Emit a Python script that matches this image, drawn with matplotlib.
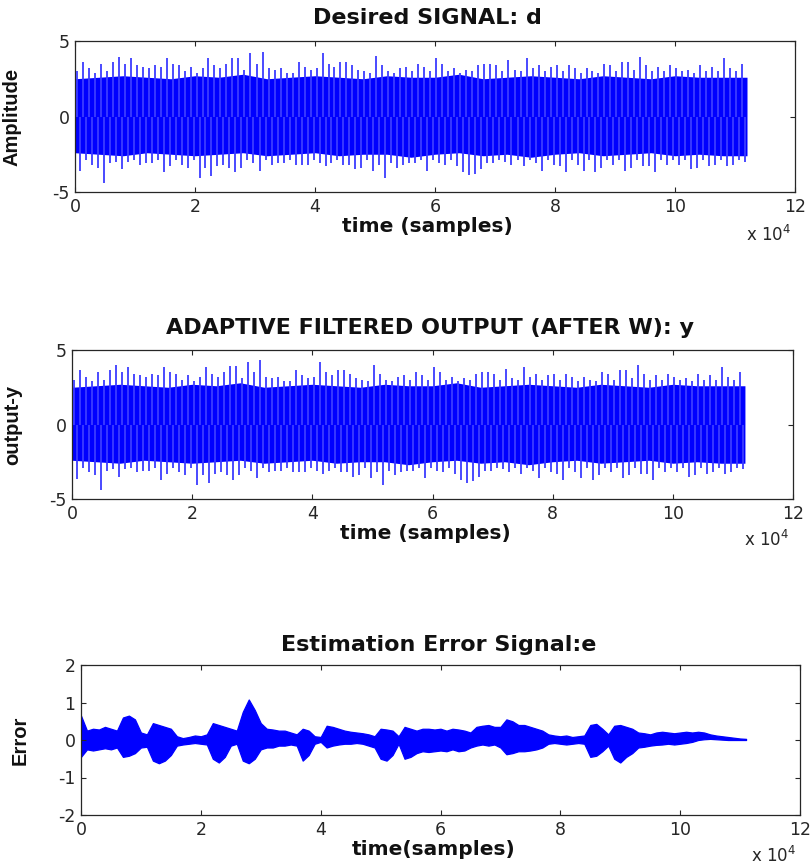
import matplotlib
matplotlib.use("Agg")
import matplotlib.pyplot as plt
import numpy as np
from matplotlib.ticker import FuncFormatter, FixedLocator

plt.rcParams["axes.unicode_minus"] = False

# envelope readings, one value per 1000 samples (0 .. 111000)
BIN = 1000
D_SPIKE_HI = [
    3.0, 3.63, 3.2, 2.9, 3.5, 3.0, 3.63, 3.96, 3.5, 3.85,
    3.4, 3.3, 3.2, 3.4, 3.3, 3.85, 3.5, 3.4, 3.0, 3.3,
    2.9, 3.2, 3.85, 3.4, 3.2, 3.5, 3.9, 3.9, 3.1, 4.2,
    3.5, 4.3, 3.2, 3.1, 3.2, 2.9, 2.9, 3.63, 3.3, 3.1,
    3.2, 4.2, 3.5, 3.3, 3.63, 3.63, 3.4, 3.1, 3.0, 2.9,
    4.0, 3.4, 3.0, 2.9, 3.2, 3.3, 3.0, 3.5, 3.3, 3.0,
    3.85, 3.5, 3.0, 3.2, 2.9, 3.1, 3.0, 3.4, 3.5, 3.5,
    3.4, 3.0, 3.75, 3.1, 3.0, 3.85, 3.2, 3.4, 3.0, 3.3,
    3.4, 3.0, 3.4, 3.2, 2.9, 3.2, 3.0, 2.9, 3.5, 3.4,
    3.0, 3.63, 3.63, 3.1, 3.96, 3.4, 3.0, 3.3, 3.0, 3.4,
    3.2, 3.0, 3.1, 2.9, 3.4, 3.0, 3.3, 3.0, 3.85, 3.2,
    3.0, 3.5,
]
D_SPIKE_LO = [
    -3.63, -2.9, -3.2, -3.4, -4.4, -3.1, -3.0, -3.5, -3.0, -2.9,
    -3.2, -3.1, -3.1, -2.9, -3.7, -3.3, -2.9, -3.2, -3.4, -2.9,
    -4.05, -3.4, -3.95, -3.3, -3.2, -3.4, -3.7, -3.4, -2.9, -3.1,
    -3.6, -2.9, -3.2, -3.1, -3.1, -2.9, -3.2, -3.2, -3.2, -2.9,
    -3.1, -3.3, -3.1, -2.9, -3.2, -3.2, -3.5, -3.4, -2.9, -3.6,
    -3.2, -4.05, -3.1, -3.4, -3.2, -3.1, -3.1, -2.9, -3.6, -2.9,
    -3.1, -3.2, -2.9, -3.3, -3.7, -3.9, -3.8, -3.5, -3.1, -3.1,
    -2.9, -3.0, -3.2, -2.9, -3.3, -2.9, -3.1, -3.6, -2.9, -3.2,
    -3.3, -3.7, -2.9, -3.2, -3.6, -2.9, -3.7, -3.4, -2.9, -3.2,
    -2.9, -3.6, -3.4, -2.9, -3.3, -3.3, -3.7, -2.9, -3.2, -2.9,
    -3.2, -2.9, -3.5, -3.4, -2.9, -3.3, -3.2, -2.9, -3.3, -3.2,
    -2.9, -3.0,
]

# solid core of the noise band, one value per 4000 samples
CORE_BIN = 4000
D_CORE_HI = [2.5, 2.6, 2.7, 2.6, 2.5, 2.7, 2.6, 2.8, 2.5, 2.6, 2.7, 2.6, 2.5, 2.7,
             2.6, 2.6, 2.8, 2.5, 2.6, 2.7, 2.6, 2.5, 2.7, 2.6, 2.5, 2.7, 2.6, 2.6]
D_CORE_LO = [-2.4, -2.5, -2.6, -2.4, -2.5, -2.6, -2.5, -2.4, -2.6, -2.5, -2.4, -2.6, -2.5, -2.5,
             -2.7, -2.5, -2.4, -2.6, -2.5, -2.7, -2.5, -2.4, -2.6, -2.5, -2.4, -2.6, -2.5, -2.6]

# filter output y follows d closely, so the readings are the same
Y_SPIKE_HI = list(D_SPIKE_HI)
Y_SPIKE_LO = list(D_SPIKE_LO)
Y_CORE_HI = list(D_CORE_HI)
Y_CORE_LO = list(D_CORE_LO)

E_HI = [
    0.65,
    0.25, 0.3, 0.28, 0.35, 0.3, 0.25,
    0.6, 0.65, 0.55,
    0.2, 0.15,
    0.45, 0.4, 0.35, 0.3,
    0.1, 0.05, 0.08, 0.12, 0.1, 0.15,
    0.45, 0.4, 0.35,
    0.3, 0.25,
    0.75, 1.08, 0.8,
    0.45, 0.3, 0.28, 0.25, 0.25, 0.2, 0.15,
    0.3, 0.25,
    0.1, 0.08,
    0.38, 0.35, 0.3, 0.25, 0.22, 0.2, 0.18, 0.15, 0.1,
    0.3, 0.28, 0.25,
    0.1,
    0.35, 0.3, 0.25, 0.3,
    0.3, 0.28, 0.3, 0.25, 0.3, 0.28, 0.25, 0.2,
    0.35, 0.38, 0.4, 0.35, 0.35,
    0.55, 0.5, 0.4,
    0.4, 0.35, 0.3, 0.25,
    0.15, 0.12, 0.1, 0.12, 0.08, 0.1, 0.12,
    0.4, 0.43, 0.3,
    0.15,
    0.38, 0.4, 0.35, 0.3,
    0.2, 0.18, 0.15,
    0.2, 0.22, 0.2, 0.18, 0.2, 0.22, 0.2,
    0.22, 0.2,
    0.15, 0.12, 0.1, 0.08, 0.06, 0.04, 0.03,
]
E_LO = [
    -0.45,
    -0.25, -0.28, -0.25, -0.22, -0.25, -0.2,
    -0.45, -0.42, -0.35,
    -0.2, -0.18,
    -0.55, -0.62, -0.55, -0.4,
    -0.15, -0.12, -0.1, -0.08, -0.1, -0.12,
    -0.5, -0.6, -0.45,
    -0.15, -0.1,
    -0.55, -0.62, -0.5,
    -0.25, -0.2, -0.2, -0.15, -0.15, -0.12, -0.15,
    -0.55, -0.4,
    -0.1, -0.05,
    -0.2, -0.15, -0.12, -0.1, -0.1, -0.08, -0.1, -0.15, -0.2,
    -0.5, -0.55, -0.4,
    -0.1,
    -0.5, -0.45, -0.35, -0.3,
    -0.32, -0.3, -0.28, -0.3, -0.25, -0.3, -0.28, -0.2,
    -0.15, -0.12, -0.15, -0.12, -0.2,
    -0.38, -0.35, -0.3,
    -0.3, -0.28, -0.25, -0.2,
    -0.1, -0.08, -0.1, -0.12, -0.1, -0.08, -0.1,
    -0.45, -0.42, -0.3,
    -0.15,
    -0.5, -0.6, -0.45, -0.35,
    -0.2, -0.18, -0.15,
    -0.13, -0.12, -0.1, -0.12, -0.1, -0.08, -0.05,
    0.0, 0.02,
    0.03, 0.02, 0.01, 0.0, 0.0, 0.0, 0.0,
]

TITLES = ["Desired SIGNAL: d", "ADAPTIVE FILTERED OUTPUT (AFTER W): y", "Estimation Error Signal:e"]
YLABELS = ["Amplitude", "output-y", "Error"]
XLABELS = ["time (samples)", "time (samples)", "time(samples)"]
XTICKS = [0, 20000, 40000, 60000, 80000, 100000, 120000]

BLUE = "#0000ff"
SPIKE = "#3c3cff"
INK = "#262626"

W, H = 810, 866
fig = plt.figure(figsize=(W / 100, H / 100), dpi=100, facecolor="white")

# axes boxes in pixels: left, top, right, bottom
boxes = [(75, 41, 795, 192), (72, 350, 793, 499), (81, 665, 800, 815)]
axes = []
for l, t, r, b in boxes:
    axes.append(fig.add_axes([l / W, (H - b) / H, (r - l) / W, (b - t) / H]))


def style(ax, title, ylabel, xlabel, yticks, title_xy, ylab_x, xlab_y, exp_y):
    ax.set_xlim(0, 120000)
    ax.set_ylim(yticks[0], yticks[-1])
    ax.xaxis.set_major_locator(FixedLocator(XTICKS))
    ax.xaxis.set_major_formatter(FuncFormatter(lambda v, p: f"{v / 1e4:g}"))
    ax.set_yticks(yticks)
    ax.tick_params(direction="in", length=3.5, width=0.8, top=True, right=True,
                   labelsize=12.5, colors=INK, pad=4)
    for s in ax.spines.values():
        s.set_color(INK)
        s.set_linewidth(0.9)
    ax.text(title_xy[0], title_xy[1], title, transform=ax.transAxes, ha="center", va="center",
            fontsize=16, fontweight="bold", color="#111111")
    ax.set_ylabel(ylabel, family="Liberation Sans", fontsize=14.5,
                  fontweight="bold", color="#111111")
    ax.yaxis.set_label_coords(ylab_x, 0.5)
    ax.set_xlabel(xlabel, fontsize=14.5, fontweight="bold", color="#111111", va="center")
    ax.xaxis.set_label_coords(0.49, xlab_y)
    ax.text(0.995, exp_y, r"x 10$^4$", transform=ax.transAxes, ha="right", va="center",
            fontsize=12, color=INK)


def draw_noise(ax, spike_hi, spike_lo, core_hi, core_lo):
    n = len(spike_hi)
    xc = np.append(np.arange(len(core_hi)) * CORE_BIN, n * BIN)
    ax.fill_between(xc, np.append(core_lo, core_lo[-1]), np.append(core_hi, core_hi[-1]),
                    color=BLUE, linewidth=0, zorder=2)
    xs = np.arange(n) * BIN
    ax.vlines(xs + BIN * 0.25, 0, spike_hi, color=SPIKE, linewidth=1.3, zorder=3)
    ax.vlines(xs + BIN * 0.75, spike_lo, 0, color=SPIKE, linewidth=1.3, zorder=3)


draw_noise(axes[0], D_SPIKE_HI, D_SPIKE_LO, D_CORE_HI, D_CORE_LO)
draw_noise(axes[1], Y_SPIKE_HI, Y_SPIKE_LO, Y_CORE_HI, Y_CORE_LO)

xe = np.arange(len(E_HI)) * BIN
axes[2].fill_between(xe, E_LO, E_HI, facecolor=BLUE, edgecolor=BLUE, linewidth=0.9)

style(axes[0], TITLES[0], YLABELS[0], XLABELS[0], [-5, 0, 5], (0.49, 1.155), -0.074, -0.23, -0.285)
style(axes[1], TITLES[1], YLABELS[1], XLABELS[1], [-5, 0, 5], (0.497, 1.147), -0.069, -0.23, -0.275)
style(axes[2], TITLES[2], YLABELS[2], XLABELS[2], [-2, -1, 0, 1, 2], (0.497, 1.133), -0.072, -0.23, -0.27)

fig.savefig("out.png", dpi=100, facecolor="white")
